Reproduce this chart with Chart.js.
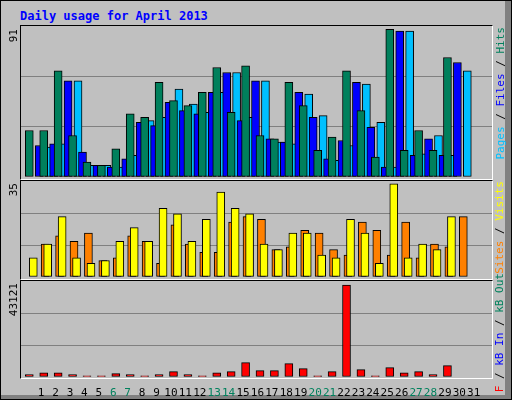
<!DOCTYPE html>
<html><head><meta charset="utf-8">
<script src="https://cdn.jsdelivr.net/npm/chart.js@4/dist/chart.umd.min.js"></script>
<style>
body{margin:0;background:#fff;}
#wrap{position:absolute;left:0;top:0;width:510px;height:398px;background:#c0c0c0;border:1px solid #000;overflow:hidden;font-family:"DejaVu Sans Mono",monospace;}
#edgeR{position:absolute;left:504px;top:0;width:6px;height:398px;background:#808080;}
#edgeB{position:absolute;left:0;top:394px;width:510px;height:4px;background:#808080;}
canvas{position:absolute;}
.frame{position:absolute;border-top:1px solid #000;border-left:1px solid #000;border-right:1px solid #fff;border-bottom:1px solid #fff;pointer-events:none;}
.rot{position:absolute;white-space:nowrap;transform-origin:top right;transform:rotate(-90deg);font-size:11px;line-height:11px;}
#title{position:absolute;left:19px;top:8px;color:#0000ff;font-weight:bold;font-size:12px;}
</style></head><body>
<div id="wrap">
<div id="edgeR"></div><div id="edgeB"></div>
<div id="title">Daily usage for April 2013</div>
<canvas id="c1" width="471" height="151" style="left:20px;top:25px"></canvas>
<canvas id="c2" width="471" height="96" style="left:20px;top:180px"></canvas>
<canvas id="c3" width="471" height="118" style="left:20px;top:280px"></canvas>
<div class="frame" style="left:19px;top:24px;width:471px;height:153px"></div>
<div class="frame" style="left:19px;top:179px;width:471px;height:98px"></div>
<div class="frame" style="left:19px;top:279px;width:471px;height:97px"></div>
<div class="rot" style="right:503px;top:28px">91</div>
<div class="rot" style="right:503px;top:182px">35</div>
<div class="rot" style="right:503px;top:282px">43121</div>
<div class="rot" style="right:17px;top:26px"><span style="color:#00c0ff">Pages</span> / <span style="color:#0000ff">Files</span> / <span style="color:#00805c">Hits</span></div>
<div class="rot" style="right:17px;top:180px"><span style="color:#ff8000">Sites</span> / <span style="color:#ffff00">Visits</span></div>
<div class="rot" style="right:17px;top:272px"><span style="color:#ff0000">kB F</span> / <span style="color:#0000ff">kB In</span> / <span style="color:#00805c">kB Out</span></div>
</div>
<script>
const days = Array.from({length:31},(_,i)=>i+1);
const weekend = [6,7,13,14,20,21,27,28];
const hits  = [28,28,64,25,9,7,17,38,36,57,46,43,51,66,39,67,25,23,57,43,16,24,64,40,12,89,16,28,16,72,0];
const files = [19,20,58,15,7,6,11,33,31,45,40,38,51,63,34,58,23,21,51,36,11,22,57,30,6,88,13,23,13,69,0];
const pages = [18,20,58,7,7,6,13,34,36,53,44,39,51,63,36,58,21,20,50,37,10,19,56,33,6,88,14,25,13,64,0];
const visits= [7,12,22,7,5,6,13,18,13,25,23,13,21,31,25,23,12,10,16,16,8,7,21,16,5,34,7,12,10,22,0];
const sites = [12,15,13,16,6,7,15,13,5,19,12,9,9,20,22,21,10,11,17,16,10,8,20,17,8,20,7,12,11,22,0];
const kbF   = [1100,2000,2000,1100,600,600,1600,1100,600,1100,2500,1100,600,2000,2500,6750,3000,3000,6300,3900,600,2500,43121,3450,600,4400,2000,2500,1100,5300,0];
const kbIn  = days.map(()=>0);
const kbOut = days.map(()=>0);
const maxTop=91, maxMid=35, maxBot=45000;

const XMIN=0.128, XMAX=31.74, PX=(XMAX-XMIN)/471;
function ds(vals,color,shiftPx,order){
  return {data:vals.map((v,i)=>({x:days[i]+shiftPx*PX,y:v===0?null:v})),backgroundColor:color,borderColor:'#000',borderWidth:1,barThickness:8,order:order,borderSkipped:false};
}
function mk(id,datasets,max,showX){
  new Chart(document.getElementById(id),{type:'bar',data:{datasets},
    options:{responsive:false,animation:false,layout:{padding:0},
      plugins:{legend:{display:false},tooltip:{enabled:false}},
      scales:{
        x:{type:'linear',min:XMIN,max:XMAX,display:showX,grid:{display:false},border:{display:false},
           afterBuildTicks:s=>{s.ticks=days.map(v=>({value:v}));},
           afterFit:s=>{s.height=showX?22:0;},
           ticks:{autoSkip:false,maxRotation:0,padding:2,font:{family:'DejaVu Sans Mono',size:11},
             color:c=>weekend.includes(c.tick.value)?'#00805c':'#000',callback:v=>String(v)}},
        y:{min:0,max:max,grid:{drawTicks:false,color:c=>(c.tick.value>0&&c.tick.value<max)?'#808080':'rgba(0,0,0,0)'},
           border:{display:false},ticks:{display:false},
           afterBuildTicks:s=>{s.ticks=[0,max/3,2*max/3,max].map(v=>({value:v}));},
           afterFit:s=>{s.width=0;}}
      }}});
}
mk('c1',[ds(hits,'#00805c',-4,1),ds(files,'#0000ff',-2,2),ds(pages,'#00c0ff',0,3)],maxTop,false);
mk('c2',[ds(visits,'#ffff00',-4,1),ds(sites,'#ff8000',0,2)],maxMid,false);
mk('c3',[ds(kbF,'#ff0000',-4,1),ds(kbIn,'#0000ff',-2,2),ds(kbOut,'#00805c',0,3)],maxBot,true);
</script>
</body></html>
